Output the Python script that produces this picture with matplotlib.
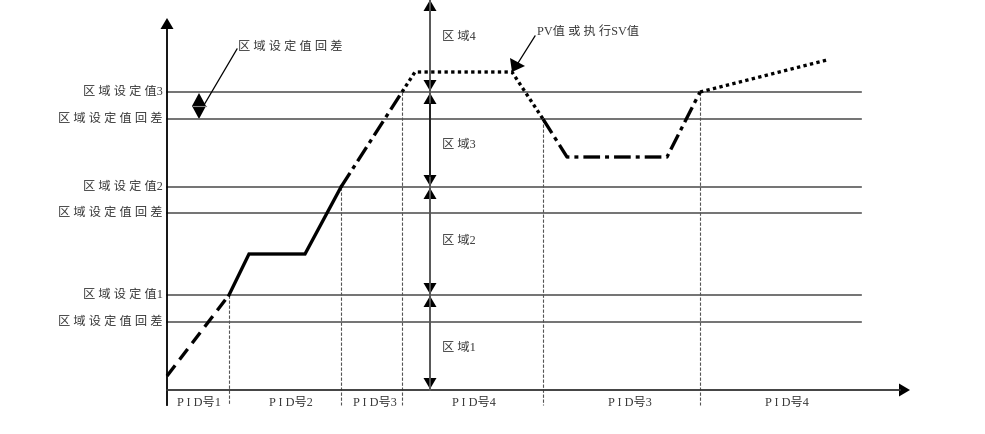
import matplotlib.pyplot as plt
from matplotlib.patches import Polygon

W, H = 985, 434

# horizontal set-value lines (pixel rows, from the top)
levels = [92, 119, 187, 213, 295, 322]
level_labels = ['区域设定值3', '区域设定值回差', '区域设定值2',
                '区域设定值回差', '区域设定值1', '区域设定值回差']
line_end = 861

# PID boundaries and where the curve meets them
bound_x = [229, 341, 402, 543, 700]
bound_top = [295, 187, 92, 119, 92]

pid_labels = ['PID号1', 'PID号2', 'PID号3', 'PID号4', 'PID号3', 'PID号4']
pid_x = [199, 291, 375, 474, 630, 787]

zone_labels = ['区域4', '区域3', '区域2', '区域1']
zone_y = [37, 145, 241, 348]
zone_x = 430
zone_marks = [92, 187, 295]

# curve pieces
dash_x, dash_y = [167, 229], [376, 295]
solid_x, solid_y = [229, 249, 305, 341], [295, 254, 254, 187]
dd1_x, dd1_y = [341, 402], [187, 92]
dot1_x, dot1_y = [402, 415, 512, 543], [92, 72, 72, 119]
dd2_x, dd2_y = [543, 567, 667, 700], [119, 157, 157, 92]
dot2_x, dot2_y = [700, 827], [92, 60]

axis_x, axis_y = 167, 390

FONT = ['Liberation Serif', 'Noto Sans CJK SC']
TXT = '#3a3a3a'
GRID = '#5a5a5a'


def spaced(s, latin=False):
    # put a gap after every CJK character (optionally between capitals)
    out = ''
    for i, c in enumerate(s):
        out += c
        if i < len(s) - 1:
            nxt = s[i + 1]
            if ord(c) > 0x2e80 and ord(nxt) > 0x2e80:
                out += ' '
            elif latin and c.isupper() and nxt.isupper():
                out += ' '
    return out


def tri(ax, x, y, d, w=6.5, h=11):
    # filled arrow head, tip at (x, y)
    if d == 'up':
        pts = [(x, y), (x - w, y + h), (x + w, y + h)]
    elif d == 'down':
        pts = [(x, y), (x - w, y - h), (x + w, y - h)]
    else:
        pts = [(x, y), (x - h, y - w), (x - h, y + w)]
    ax.add_patch(Polygon(pts, closed=True, color='black', lw=0))


fig = plt.figure(figsize=(9.85, 4.34), dpi=100)
ax = fig.add_axes([0, 0, 1, 1])
ax.set_xlim(0, W)
ax.set_ylim(H, 0)
ax.axis('off')

# set-value lines + labels
for lv, lab in zip(levels, level_labels):
    ax.plot([axis_x, line_end], [lv, lv], color=GRID, lw=1.2)
    ax.text(163, lv, spaced(lab), ha='right', va='center', fontsize=8.8,
            color=TXT, family=FONT)

# PID boundaries
for bx, bt in zip(bound_x, bound_top):
    ax.plot([bx, bx], [bt, 405], color='#555555', lw=0.8,
            dashes=(3, 1.5))
for px, lab in zip(pid_x, pid_labels):
    ax.text(px, 403, spaced(lab, latin=True), ha='center', va='center',
            fontsize=8.8, color=TXT, family=FONT)

# axes
ax.plot([axis_x, axis_x], [405, 28], color='black', lw=1.3)
tri(ax, axis_x, 18, 'up')
ax.plot([axis_x, 900], [axis_y, axis_y], color='#333333', lw=1.3)
tri(ax, 910, axis_y, 'right')

# zone arrows
ax.plot([zone_x, zone_x], [0, axis_y], color='#555555', lw=1.4)
ax.plot([zone_x, zone_x], [104, 176], color='#222222', lw=1.4)
tri(ax, zone_x, 0, 'up')
for zm in zone_marks:
    tri(ax, zone_x, zm - 1, 'down')
    tri(ax, zone_x, zm + 1, 'up')
tri(ax, zone_x, axis_y - 1, 'down')
for zy, lab in zip(zone_y, zone_labels):
    ax.text(442, zy, spaced(lab), ha='left', va='center', fontsize=8.8,
            color=TXT, family=FONT)

# hysteresis marker
tri(ax, 199, 93, 'up', w=7, h=13)
tri(ax, 199, 119, 'down', w=7, h=13)
ax.plot([193, 206], [106, 106], color='#888888', lw=0.8)
ax.plot([204, 237], [105, 49], color='black', lw=0.9)
ax.text(238, 47, spaced('区域设定值回差'), ha='left', va='center',
        fontsize=8.8, color=TXT, family=FONT)

# PV annotation
ax.plot([535, 518], [36, 63], color='black', lw=0.9)
ax.add_patch(Polygon([(512, 72), (510, 58), (525, 66)], closed=True,
                     color='black', lw=0))
ax.text(537, 32, spaced('PV值或执行SV值'), ha='left', va='center',
        fontsize=8.8, color=TXT, family=FONT)

# curve
ax.plot(dash_x, dash_y, color='black', lw=2.4, dashes=(4, 2.2),
        solid_capstyle='butt')
ax.plot(solid_x, solid_y, color='black', lw=2.4, solid_joinstyle='miter')
ax.plot(dd1_x, dd1_y, color='black', lw=2.4, dashes=(5, 1.5, 1.2, 1.5))
ax.plot(dot1_x, dot1_y, color='black', lw=2.4, dashes=(1, 1))
ax.plot(dd2_x, dd2_y, color='black', lw=2.4, dashes=(5, 1.5, 1.2, 1.5))
ax.plot(dot2_x, dot2_y, color='black', lw=2.4, dashes=(1, 1))

fig.savefig('out.png', dpi=100)
